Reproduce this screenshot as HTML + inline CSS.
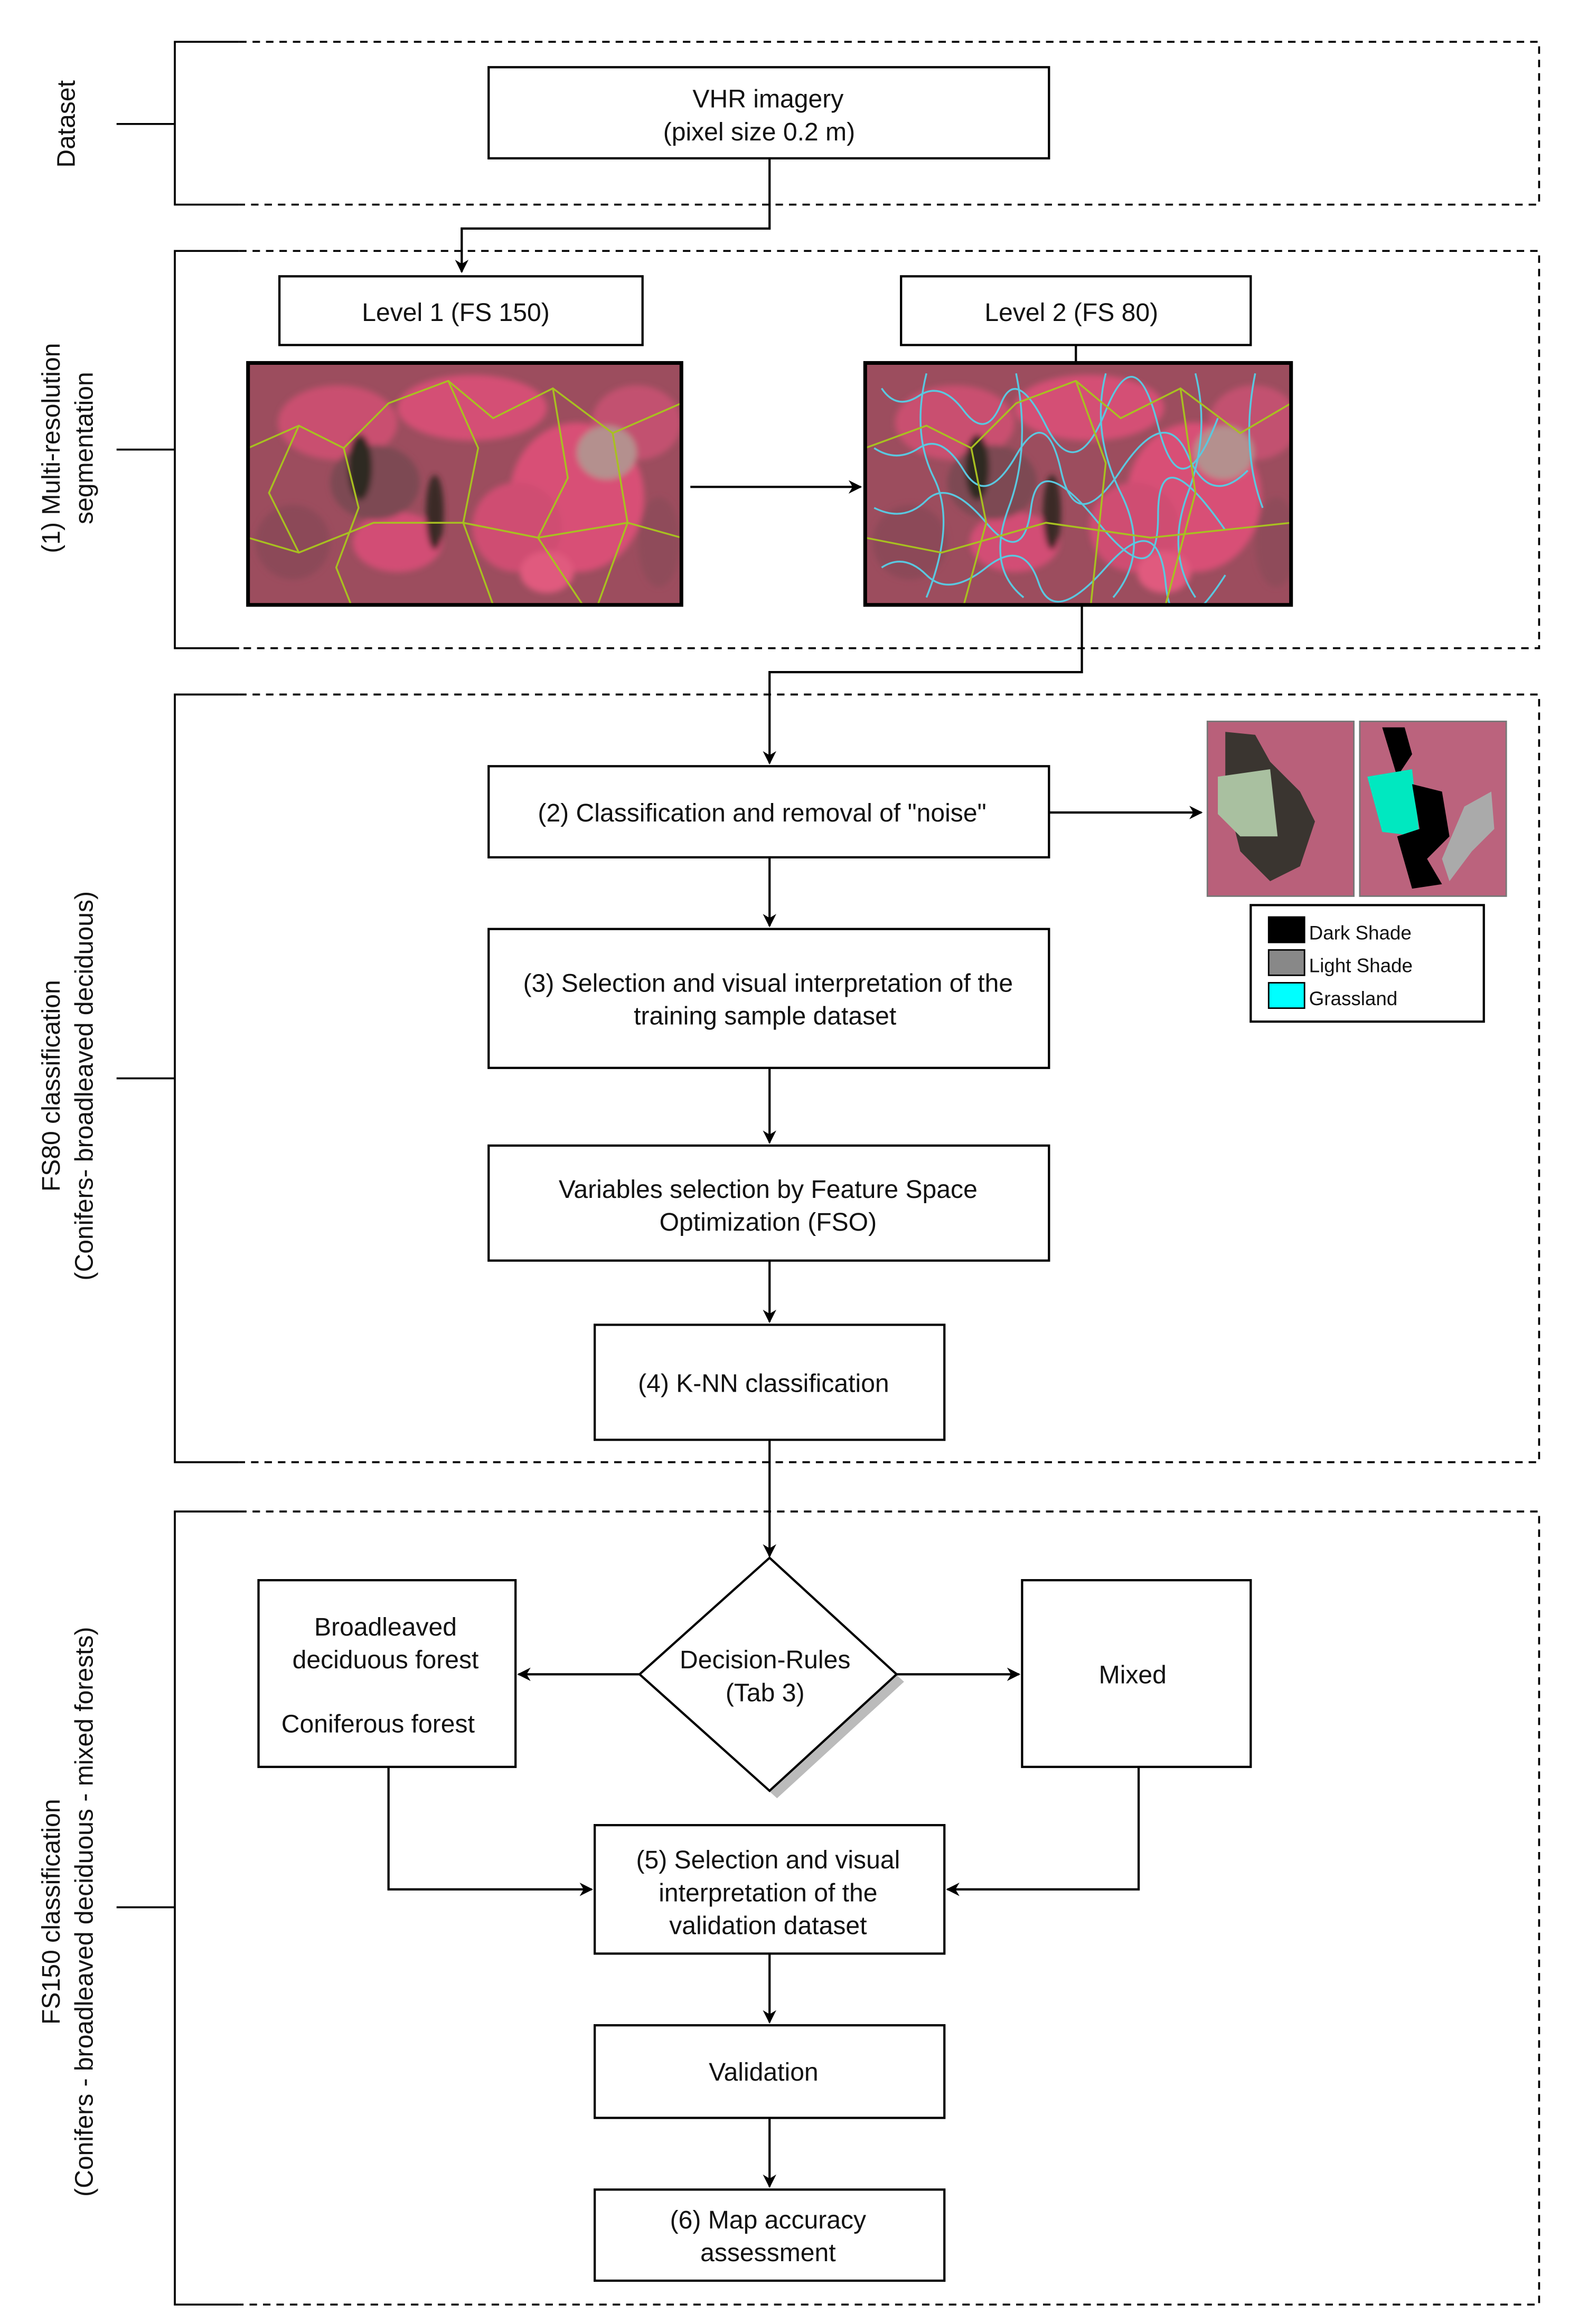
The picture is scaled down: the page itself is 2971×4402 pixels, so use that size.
<!DOCTYPE html>
<html><head><meta charset="utf-8"><style>
html,body{margin:0;padding:0;background:#fff}
svg{display:block}
text{font-family:"Liberation Sans",sans-serif;fill:#111}
</style></head><body>
<svg width="2971" height="4402" viewBox="0 0 1050 1556" preserveAspectRatio="none" xmlns="http://www.w3.org/2000/svg">
<defs>
<marker id="a" viewBox="0 0 10 10" refX="9" refY="5" markerWidth="9" markerHeight="9" orient="auto" markerUnits="userSpaceOnUse"><path d="M0,0 L10,5 L0,10 L3,5 z" fill="#000"/></marker>
<filter id="bl"><feGaussianBlur stdDeviation="2"/></filter>
<clipPath id="c1"><rect x="166" y="243" width="290" height="162"/></clipPath>
<clipPath id="c2"><rect x="579" y="243" width="285" height="162"/></clipPath>
<g id="forest">
<rect width="290" height="162" fill="#9c4d5e"/>
<g filter="url(#bl)">
<ellipse cx="60" cy="40" rx="40" ry="25" fill="#c9506f"/>
<ellipse cx="150" cy="30" rx="50" ry="22" fill="#d44f74"/>
<ellipse cx="220" cy="90" rx="45" ry="50" fill="#d84f76"/>
<ellipse cx="180" cy="110" rx="30" ry="30" fill="#cf4e72"/>
<ellipse cx="260" cy="40" rx="30" ry="25" fill="#c25170"/>
<ellipse cx="100" cy="120" rx="30" ry="20" fill="#d24e74"/>
<ellipse cx="240" cy="60" rx="20" ry="18" fill="#b4908e"/>
<ellipse cx="85" cy="80" rx="30" ry="25" fill="#7d4a52"/>
<ellipse cx="30" cy="120" rx="25" ry="25" fill="#8c4a58"/>
<ellipse cx="75" cy="70" rx="8" ry="22" fill="#2f2a24"/>
<ellipse cx="125" cy="100" rx="6" ry="25" fill="#3a2a28"/>
<ellipse cx="200" cy="140" rx="18" ry="14" fill="#e05a7e"/>
<ellipse cx="275" cy="120" rx="14" ry="30" fill="#8f4b5a"/>
</g>
</g>
</defs>

<g fill="none" stroke="#000" stroke-width="1.3">
<path d="M160,28 H117 V137 H160"/>
<path d="M160,28 H1030 V137 H160" stroke-dasharray="5,4"/>
<path d="M160,168 H117 V434 H160"/>
<path d="M160,168 H1030 V434 H160" stroke-dasharray="5,4"/>
<path d="M160,465 H117 V979 H160"/>
<path d="M160,465 H1030 V979 H160" stroke-dasharray="5,4"/>
<path d="M160,1012 H117 V1543 H160"/>
<path d="M160,1012 H1030 V1543 H160" stroke-dasharray="5,4"/>
<path d="M78,83 H117 M78,301 H117 M78,722 H117 M78,1277 H117"/>
</g>

<g font-size="17" text-anchor="middle">
<text transform="translate(50,83) rotate(-90)">Dataset</text>
<text transform="translate(40,300) rotate(-90)">(1) Multi-resolution</text>
<text transform="translate(62,300) rotate(-90)">segmentation</text>
<text transform="translate(40,727) rotate(-90)">FS80 classification</text>
<text transform="translate(62,727) rotate(-90)">(Conifers- broadleaved deciduous)</text>
<text transform="translate(40,1280) rotate(-90)">FS150 classification</text>
<text transform="translate(62,1280) rotate(-90)">(Conifers - broadleaved deciduous - mixed forests)</text>
</g>

<g fill="#fff" stroke="#000" stroke-width="1.5">
<rect x="327" y="45" width="375" height="61"/>
<rect x="187" y="185" width="243" height="46"/>
<rect x="603" y="185" width="234" height="46"/>
<rect x="327" y="513" width="375" height="61"/>
<rect x="327" y="622" width="375" height="93"/>
<rect x="327" y="767" width="375" height="77"/>
<rect x="398" y="887" width="234" height="77"/>
<rect x="173" y="1058" width="172" height="125"/>
<rect x="684" y="1058" width="153" height="125"/>
<rect x="398" y="1222" width="234" height="86"/>
<rect x="398" y="1356" width="234" height="62"/>
<rect x="398" y="1466" width="234" height="61"/>
<rect x="837" y="606" width="156" height="78"/>
</g>
<path d="M520,1048 L605,1126 L520,1204 L433,1126 Z" fill="#bbb"/>
<path d="M515,1043 L600,1121 L515,1199 L428,1121 Z" fill="#fff" stroke="#000" stroke-width="1.5"/>

<g clip-path="url(#c1)">
<use href="#forest" x="166" y="243"/>
<g fill="none" stroke="#a8c020" stroke-width="1.2">
<path d="M166,300 L200,285 L230,300 L260,270 L300,255 L330,280 L370,260 L410,290 L456,270"/>
<path d="M230,300 L240,340 L225,380 L235,405 M300,255 L320,300 L310,350 L330,405 M370,260 L380,320 L360,360 L390,405 M200,285 L180,330 L200,370 M410,290 L420,350 L400,405"/>
<path d="M166,360 L200,370 L250,350 L310,350 L360,360 L420,350 L456,360"/>
</g>
</g>
<rect x="166" y="243" width="290" height="162" fill="none" stroke="#000" stroke-width="2.5"/>
<g clip-path="url(#c2)">
<use href="#forest" x="579" y="243"/>
<g fill="none" stroke-width="1.2">
<path stroke="#5ac8e0" d="M590,260 q10,15 25,5 t30,10 t25,-5 t30,15 t40,-10 t35,10 t40,-5 M585,300 q15,10 30,0 t30,15 t35,-10 t30,10 t40,0 t45,-10 t40,10 M585,340 q20,10 35,-5 t40,15 t30,-10 t45,10 t40,-5 t45,10 M590,380 q15,-10 30,5 t40,-5 t35,10 t45,-10 t40,10 t40,-5 M620,250 q-10,40 5,70 t-5,80 M680,250 q10,50 -5,90 t10,60 M740,250 q-10,40 10,80 t-5,70 M800,250 q10,40 -5,80 t5,70 M840,250 q-10,50 5,90"/>
<path stroke="#a8c020" d="M579,300 L620,285 L650,300 L680,270 L720,255 L750,280 L790,260 L830,290 L864,270 M650,300 L660,350 L645,405 M720,255 L740,310 L730,405 M790,260 L800,330 L780,405 M579,360 L630,370 L700,350 L770,360 L864,350"/>
</g>
</g>
<rect x="579" y="243" width="285" height="162" fill="none" stroke="#000" stroke-width="2.5"/>

<g>
<rect x="808" y="483" width="98" height="117" fill="#b9607a"/>
<path d="M820,490 L840,492 L850,510 L870,530 L880,550 L870,580 L850,590 L830,570 L820,530 Z" fill="#3a3530"/>
<path d="M815,520 L850,515 L855,560 L830,560 L815,545 Z" fill="#a9c0a0"/>
<rect x="808" y="483" width="98" height="117" fill="none" stroke="#777" stroke-width="1"/>
<rect x="910" y="483" width="98" height="117" fill="#bb637d"/>
<path d="M925,487 L940,487 L945,505 L935,520 L935,520 Z" fill="#000"/>
<path d="M915,520 L945,515 L950,560 L925,557 Z" fill="#00e8c0"/>
<path d="M945,525 L965,530 L970,560 L955,575 L965,592 L945,595 L935,560 L950,555 Z" fill="#000"/>
<path d="M965,575 L980,540 L998,530 L1000,555 L985,570 L970,590 Z" fill="#aaa"/>
<rect x="910" y="483" width="98" height="117" fill="none" stroke="#777" stroke-width="1"/>
</g>
<g stroke="#000" stroke-width="1">
<rect x="849" y="614" width="24" height="17" fill="#000"/>
<rect x="849" y="636" width="24" height="17" fill="#888"/>
<rect x="849" y="658" width="24" height="17" fill="#0ff"/>
</g>
<g font-size="13"><text x="876" y="629">Dark Shade</text><text x="876" y="651">Light Shade</text><text x="876" y="673">Grassland</text></g>

<g fill="none" stroke="#000" stroke-width="1.5">
<path d="M515,106 V153 H309 V182" marker-end="url(#a)"/>
<path d="M462,326 H576" marker-end="url(#a)"/>
<path d="M720,231 V243"/>
<path d="M724,405 V450 H515 V511" marker-end="url(#a)"/>
<path d="M702,544 H804" marker-end="url(#a)"/>
<path d="M515,574 V620" marker-end="url(#a)"/>
<path d="M515,715 V765" marker-end="url(#a)"/>
<path d="M515,844 V885" marker-end="url(#a)"/>
<path d="M515,964 V1042" marker-end="url(#a)"/>
<path d="M428,1121 H347" marker-end="url(#a)"/>
<path d="M600,1121 H682" marker-end="url(#a)"/>
<path d="M260,1183 V1265 H396" marker-end="url(#a)"/>
<path d="M762,1183 V1265 H634" marker-end="url(#a)"/>
<path d="M515,1308 V1354" marker-end="url(#a)"/>
<path d="M515,1418 V1464" marker-end="url(#a)"/>
</g>

<g font-size="17" text-anchor="middle">
<text x="514" y="72">VHR imagery</text>
<text x="508" y="94">(pixel size 0.2 m)</text>
<text x="305" y="215">Level 1 (FS 150)</text>
<text x="717" y="215">Level 2 (FS 80)</text>
<text x="510" y="550">(2) Classification and removal of "noise"</text>
<text x="514" y="664">(3) Selection and visual interpretation of the</text>
<text x="512" y="686">training sample dataset</text>
<text x="514" y="802">Variables selection by Feature Space</text>
<text x="514" y="824">Optimization (FSO)</text>
<text x="511" y="932">(4) K-NN classification</text>
<text x="258" y="1095">Broadleaved</text>
<text x="258" y="1117">deciduous forest</text>
<text x="253" y="1160">Coniferous forest</text>
<text x="512" y="1117">Decision-Rules</text>
<text x="512" y="1139">(Tab 3)</text>
<text x="758" y="1127">Mixed</text>
<text x="514" y="1251">(5) Selection and visual</text>
<text x="514" y="1273">interpretation of the</text>
<text x="514" y="1295">validation dataset</text>
<text x="511" y="1393">Validation</text>
<text x="514" y="1492">(6) Map accuracy</text>
<text x="514" y="1514">assessment</text>
</g>
</svg>
</body></html>
